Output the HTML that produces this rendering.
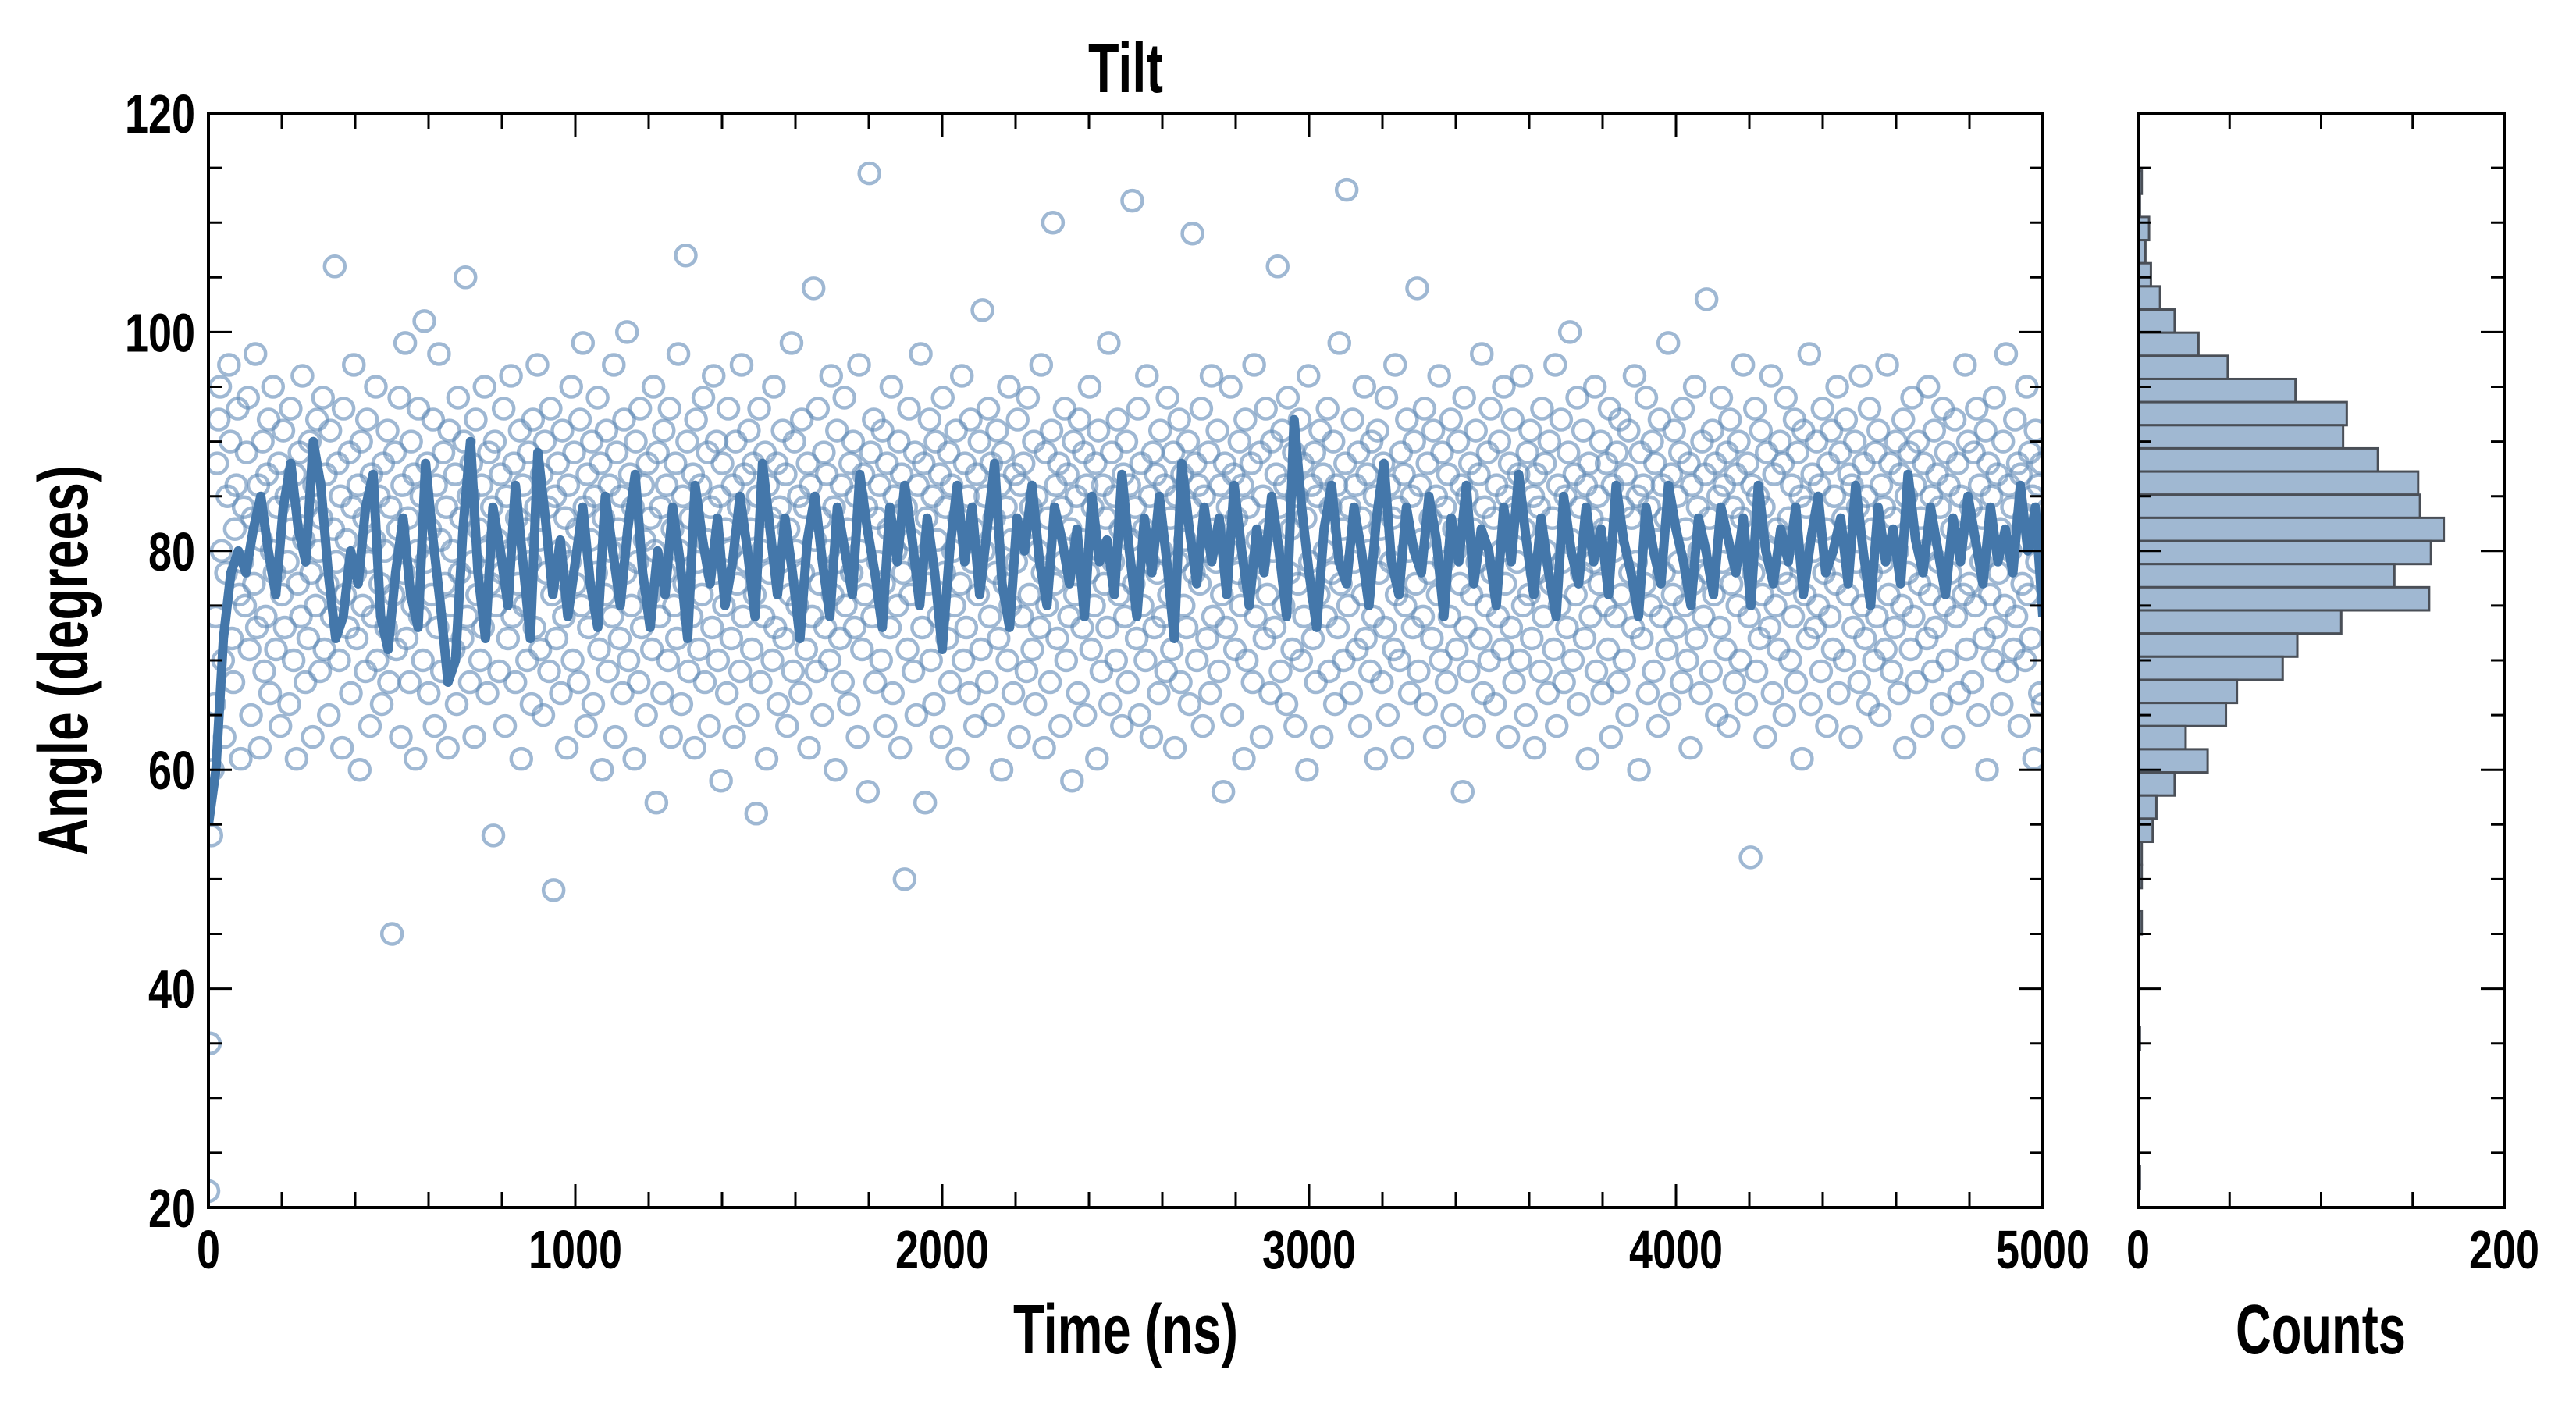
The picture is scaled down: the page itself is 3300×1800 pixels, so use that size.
<!DOCTYPE html>
<html><head><meta charset="utf-8"><style>
html,body{margin:0;padding:0;background:#fff;}
svg{display:block;}
text{font-family:"Liberation Sans Narrow","Liberation Sans",sans-serif;font-weight:bold;fill:#000;}
</style></head><body>
<svg id="fig" width="3300" height="1800" viewBox="0 0 3300 1800" xmlns="http://www.w3.org/2000/svg">
<defs><clipPath id="mainclip"><rect x="267" y="145" width="2350" height="1402"/></clipPath>
<clipPath id="histclip"><rect x="2739" y="145" width="469" height="1402"/></clipPath></defs>
<g id="scatter" clip-path="url(#mainclip)"></g>
<g id="line" clip-path="url(#mainclip)"></g>
<g id="hist" clip-path="url(#histclip)"></g>
<g id="axes"></g>
<text x="1442" y="118" text-anchor="middle" font-size="90" textLength="96" lengthAdjust="spacingAndGlyphs">Tilt</text>
<text x="1442" y="1734" text-anchor="middle" font-size="90" textLength="288" lengthAdjust="spacingAndGlyphs">Time (ns)</text>
<text x="2973" y="1734" text-anchor="middle" font-size="90" textLength="218" lengthAdjust="spacingAndGlyphs">Counts</text>
<text transform="translate(112,846) rotate(-90)" text-anchor="middle" font-size="90" textLength="500" lengthAdjust="spacingAndGlyphs">Angle (degrees)</text>
</svg>
<script>
const scatterValues=[21.5,35,54,60,66,74,88,92,95,80,70,63,78,85,97,90,72,68,82,86,93,76,61,79,84,
75,89,94,71,65,83,77,98,73,86,62,81,90,69,74,87,92,67,80,95,78,71,84,88,64,
76,91,73,85,79,66,93,82,70,87,61,77,89,74,96,81,68,84,72,90,78,63,86,75,92,
80,69,83,94,71,87,77,65,91,74,82,106,79,88,70,85,62,93,76,81,73,89,67,84,97,
78,72,86,60,90,75,83,69,92,79,64,87,74,81,95,70,85,77,66,88,80,73,91,68,84,
45,76,89,71,82,94,63,86,78,99,72,83,68,90,75,87,61,80,93,74,85,70,101,79,88,
67,82,76,92,64,86,73,98,81,69,89,77,84,62,91,75,80,71,87,66,94,78,83,72,90,
105,74,85,68,88,79,63,92,76,82,70,86,73,95,80,67,89,77,84,54,90,75,81,69,87,
78,93,64,85,72,80,96,74,88,68,83,77,91,61,86,75,82,70,89,79,66,92,73,84,97,
81,71,87,65,90,78,84,69,93,76,49,85,72,88,80,67,91,74,83,62,86,79,95,70,89,
77,82,68,92,75,99,84,64,87,73,81,90,66,85,78,94,71,88,60,83,76,91,69,86,80,
74,97,63,89,82,72,85,67,92,78,100,70,87,75,84,61,90,79,68,93,73,86,81,65,88,
76,83,71,95,80,57,89,74,84,67,91,78,86,70,93,63,82,75,88,72,98,80,66,85,77,
107,90,69,83,74,87,62,92,79,71,86,76,94,68,81,89,64,84,73,96,78,90,70,85,59,
88,75,82,67,93,80,72,86,63,90,77,84,69,97,74,87,79,65,91,82,71,88,76,56,85,
93,68,80,74,89,61,86,78,83,70,95,73,88,66,84,79,91,72,87,64,82,76,99,69,90,
80,75,85,67,92,78,84,71,88,62,86,74,104,81,69,93,77,83,65,89,73,87,80,70,96,
76,84,60,91,79,72,86,68,94,75,82,66,88,78,90,73,85,63,97,80,71,87,76,84,58,
114.5,89,74,92,68,83,79,86,70,91,77,64,88,82,73,95,67,85,80,75,90,62,87,78,50,
84,71,93,76,81,69,89,65,86,79,98,73,88,57,83,77,92,70,85,66,90,81,74,87,63,
94,78,84,72,89,68,86,80,75,91,61,83,77,96,70,88,73,85,67,92,79,82,64,87,76,
90,71,102,80,85,68,93,74,88,65,83,78,91,72,86,60,89,77,84,70,95,75,81,67,87,
79,92,63,86,74,88,82,69,94,76,84,71,90,66,85,80,73,97,78,62,89,75,83,68,91,
110,77,86,72,88,64,84,79,93,70,87,74,82,59,90,76,85,67,92,81,73,89,65,86,78,
95,71,84,75,88,61,91,80,69,86,77,83,73,99,66,89,79,85,70,92,76,82,64,87,74,
90,68,86,81,112,77,84,72,93,65,88,75,82,70,96,79,85,63,89,73,87,78,67,91,80,
74,86,69,94,76,83,71,89,62,85,79,92,68,87,75,81,73,90,66,84,109,78,88,70,86,
77,93,64,85,80,72,89,67,96,74,82,79,91,69,86,76,58,88,73,84,80,95,65,87,71,
83,78,90,75,86,61,92,70,84,77,88,68,97,74,81,79,89,63,85,72,93,76,82,67,90,
80,73,87,106,84,69,91,75,86,66,94,78,82,71,89,64,85,77,92,70,88,74,83,60,96,
79,86,72,89,68,85,76,91,63,87,80,74,93,69,84,78,90,66,86,73,99,77,82,70,88,
113,75,84,67,92,79,86,71,89,64,83,76,95,72,87,80,69,90,74,85,61,91,78,82,68,
88,73,94,65,86,79,83,71,97,76,84,70,89,62,87,75,92,80,67,85,73,90,77,104,69,
86,81,74,93,66,88,78,83,72,91,63,85,76,96,70,89,79,84,68,87,74,92,65,82,80,
71,90,77,86,58,94,73,85,69,88,76,82,64,91,79,87,72,98,67,84,75,89,70,93,78,
83,66,86,74,90,80,71,95,77,85,63,88,73,92,68,84,79,87,70,96,75,82,65,89,76,
91,72,85,62,87,78,84,69,93,74,88,80,67,90,77,83,71,97,64,86,75,92,79,68,85,
73,89,100,81,70,87,76,94,66,84,78,91,72,86,61,88,74,83,79,95,69,85,77,90,67,
82,75,88,71,93,63,86,80,74,89,68,92,76,84,70,87,65,91,78,83,73,96,79,85,60,
89,72,86,77,94,67,84,75,90,69,88,81,64,92,74,86,78,83,71,99,66,87,76,91,73,
85,79,89,68,93,75,82,70,88,62,86,77,95,72,84,80,67,90,74,87,103,78,83,69,91,
76,88,65,85,73,94,79,86,71,89,64,92,77,84,68,87,75,90,70,83,97,80,66,88,74,
52,86,78,93,69,85,72,91,76,84,63,89,80,73,96,67,87,75,82,71,90,78,88,65,94,
77,83,70,86,74,92,68,89,79,85,61,91,76,84,72,98,66,87,80,73,90,75,86,69,93,
78,82,64,88,74,91,71,85,77,95,67,89,80,83,70,92,76,87,63,86,73,90,79,84,68,
96,75,88,72,85,66,93,78,82,70,89,74,91,65,86,79,84,71,97,76,88,69,83,73,90,
80,67,87,75,92,62,85,78,89,71,94,74,86,68,90,77,83,64,88,80,72,95,76,85,69,
91,73,87,79,84,66,93,75,89,70,86,78,82,63,92,74,88,67,85,81,76,97,71,90,77,
84,68,89,75,93,65,86,79,83,72,91,60,88,76,85,70,94,73,87,78,82,66,90,75,98,
69,86,80,84,71,92,74,88,64,87,77,83,70,95,76,89,72,85,61,91,79,86,67,88,66];
const lineValues=[55,60,72,78,80,78,82,85,80,76,84,88,82,79,90,86,78,72,74,80,
77,84,87,74,71,78,83,76,73,88,81,75,68,70,82,90,78,72,84,80,
75,86,79,72,89,83,76,81,74,79,84,77,73,85,80,75,82,87,78,73,
80,76,84,79,72,86,81,77,83,75,79,85,80,74,88,82,76,83,78,72,
81,85,79,74,84,80,76,87,82,78,73,84,79,86,81,75,83,78,71,80,
86,79,84,76,82,88,77,73,83,80,86,79,75,84,81,77,82,74,85,79,
81,76,87,80,74,83,78,85,79,72,88,82,77,84,79,83,76,86,80,75,
82,78,85,80,74,92,84,78,73,82,86,79,77,84,80,75,83,88,79,76,
84,80,78,85,81,74,83,79,86,77,82,80,75,84,79,87,81,76,83,78,
74,85,80,77,84,79,82,76,86,81,78,74,84,80,77,86,82,79,75,83,
80,76,84,81,78,83,75,86,80,77,82,79,84,76,81,85,78,80,83,77,
86,80,75,84,79,82,77,87,81,78,84,80,76,83,79,85,81,77,84,79,
82,78,86,80,84,74];
const histCounts=[2,1,6,4,7,12,20,33,49,86,114,112,131,153,154,167,160,140,159,111,87,79,54,48,26,38,20,10,8,2,2,0,2,0,0,0,0,1,0,0,0,0,0,1];
const histTop=114.75, histBinWidth=2.115;
const yTicks=[20,40,60,80,100,120];
const xTicks=[0,1000,2000,3000,4000,5000];
const countTicks=[0,200];

const NS='http://www.w3.org/2000/svg';
const L=267,R=2617,T=145,B=1547,HL=2739,HR=3208;
const xs=t=>L+(t/5000)*(R-L);
const ys=v=>B-(v-20)/100*(B-T);
const hx=c=>HL+(c/200)*(HR-HL);
function mk(tag,parent,attrs){const e=document.createElementNS(NS,tag);for(const k in attrs)e.setAttribute(k,attrs[k]);parent.appendChild(e);return e;}

const sg=document.getElementById('scatter');
const n=scatterValues.length;
scatterValues.forEach((v,i)=>{
  const c=mk('circle',sg,{cx:xs(i*5000/(n-1)),cy:ys(v),r:13,fill:'none',stroke:'#5f88b5','stroke-opacity':0.6,'stroke-width':4.5});
  
  
});
const lg=document.getElementById('line');
const m=lineValues.length;
const pts=lineValues.map((v,i)=>xs(i*5000/(m-1)).toFixed(1)+','+ys(v).toFixed(1)).join(' ');
const pl=mk('polyline',lg,{points:pts,fill:'none',stroke:'#4477aa','stroke-width':12,'stroke-linejoin':'round'});



const hg=document.getElementById('hist');
histCounts.forEach((c,k)=>{
  if(!c)return;
  const top=histTop-k*histBinWidth;
  const r=mk('rect',hg,{x:HL,y:ys(top),width:hx(c)-HL,height:ys(top-histBinWidth)-ys(top),fill:'#a0b8d2',stroke:'#4a4f57','stroke-width':3});
  
  
});

const ag=document.getElementById('axes');
function frame(x0,x1,name){const r=mk('rect',ag,{x:x0,y:T,width:x1-x0,height:B-T,fill:'none',stroke:'#000','stroke-width':4});}
frame(L,R,'main-plot-frame');frame(HL,HR,'histogram-frame');
for(let v=20;v<=120;v+=5){
  const len=(v%20===0)?30:17;const y=ys(v);
  mk('line',ag,{x1:L,x2:L+len,y1:y,y2:y,stroke:'#000','stroke-width':3});
  mk('line',ag,{x1:R,x2:R-len,y1:y,y2:y,stroke:'#000','stroke-width':3});
  mk('line',ag,{x1:HL,x2:HL+len,y1:y,y2:y,stroke:'#000','stroke-width':3});
  mk('line',ag,{x1:HR,x2:HR-len,y1:y,y2:y,stroke:'#000','stroke-width':3});
}
for(let t=0;t<=5000;t+=200){
  const len=(t%1000===0)?30:20;const x=xs(t);
  mk('line',ag,{x1:x,x2:x,y1:B,y2:B-len,stroke:'#000','stroke-width':3});
  mk('line',ag,{x1:x,x2:x,y1:T,y2:T+len,stroke:'#000','stroke-width':3});
}
for(let c=0;c<=200;c+=50){
  const x=hx(c);
  mk('line',ag,{x1:x,x2:x,y1:B,y2:B-20,stroke:'#000','stroke-width':3});
  mk('line',ag,{x1:x,x2:x,y1:T,y2:T+20,stroke:'#000','stroke-width':3});
}
yTicks.forEach(v=>{
  const t=mk('text',ag,{x:250,y:ys(v)+25,'text-anchor':'end','font-size':70,textLength:String(v).length*30,lengthAdjust:'spacingAndGlyphs'});
  t.textContent=v;
  
  
});
xTicks.forEach(v=>{
  const t=mk('text',ag,{x:xs(v),y:1625,'text-anchor':'middle','font-size':70,textLength:String(v).length*30,lengthAdjust:'spacingAndGlyphs'});
  t.textContent=v;
  
  
});
countTicks.forEach(v=>{
  const t=mk('text',ag,{x:hx(v),y:1625,'text-anchor':'middle','font-size':70,textLength:String(v).length*30,lengthAdjust:'spacingAndGlyphs'});
  t.textContent=v;
  
  
});
</script>
</body></html>
